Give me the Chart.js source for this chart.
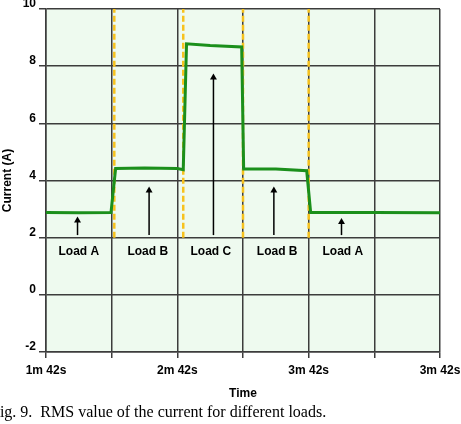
<!DOCTYPE html>
<html>
<head>
<meta charset="utf-8">
<script src="https://cdn.jsdelivr.net/npm/chart.js@4"></script>
<style>
  body { margin: 0; background: #fff; }
  #wrap { position: relative; width: 461px; height: 424px; overflow: hidden; }
  #caption { position: absolute; left: -9px; top: 403px; font: 16px "Liberation Serif", "Times New Roman", serif; color: #000; white-space: pre; }
</style>
</head>
<body>
<div id="wrap">
  <canvas id="chart" width="461" height="424"></canvas>
  <div id="caption">Fig. 9.  RMS value of the current for different loads.</div>
</div>
<script>
// current trace (x in grid divisions, y in A)
const time = [0, 0.5, 0.99, 1.06, 1.5, 2.0, 2.09, 2.14, 2.5, 2.98, 3.01, 3.5, 3.97, 4.03, 5, 6];
const current = [2.88, 2.87, 2.88, 4.42, 4.44, 4.42, 4.38, 8.78, 8.72, 8.67, 4.40, 4.40, 4.34, 2.88, 2.88, 2.87];

// dashed load-switch markers
const switchX = [1.04, 2.09, 3.0, 4.0];
const switchFrom = 2;
const switchTo = 10;

// arrows and load labels
const arrowX = [0.48, 1.57, 2.55, 3.47, 4.5];
const arrowBase = [2.09, 2.09, 2.09, 2.09, 2.09];
const arrowTip = [2.6, 3.65, 7.6, 3.65, 2.55];
const loadNames = ['Load A', 'Load B', 'Load C', 'Load B', 'Load A'];
const labelX = [0.5, 1.55, 2.51, 3.52, 4.52];
const labelY = 1.5;

const xTickLabels = ['1m 42s', '', '2m 42s', '', '3m 42s', '', '3m 42s'];
const yMin = -2, yMax = 10, yStep = 2;

const datasets = [{
  data: time.map((t, i) => ({ x: t, y: current[i] })),
  borderColor: '#1b8f1b',
  borderWidth: 3,
  pointRadius: 0
}];
switchX.forEach(x => {
  datasets.push({
    data: [{ x: x, y: switchFrom }, { x: x, y: switchTo }],
    borderColor: '#f7c21e',
    borderWidth: 2.5,
    borderDash: [6, 3],
    pointRadius: 0
  });
});
arrowX.forEach((x, i) => {
  datasets.push({
    data: [{ x: x, y: arrowBase[i] }, { x: x, y: arrowTip[i] }],
    borderColor: '#000',
    borderWidth: 1.5,
    pointStyle: 'triangle',
    pointRadius: [0, 4],
    pointBackgroundColor: '#000',
    pointBorderWidth: 0
  });
});

const plotBg = {
  id: 'plotBg',
  beforeDraw(chart) {
    const a = chart.chartArea, ctx = chart.ctx;
    ctx.save();
    ctx.fillStyle = '#eefaef';
    ctx.fillRect(a.left, a.top, a.right - a.left, a.bottom - a.top);
    ctx.restore();
  }
};

const loadText = {
  id: 'loadText',
  afterDatasetsDraw(chart) {
    const ctx = chart.ctx, xs = chart.scales.x, ys = chart.scales.y;
    ctx.save();
    ctx.font = 'bold 12px "Liberation Sans", Arial, sans-serif';
    ctx.fillStyle = '#000';
    ctx.textAlign = 'center';
    ctx.textBaseline = 'middle';
    loadNames.forEach((n, i) => {
      ctx.fillText(n, xs.getPixelForValue(labelX[i]), ys.getPixelForValue(labelY));
    });
    ctx.restore();
  }
};

const font = { family: '"Liberation Sans", Arial, sans-serif', size: 12, weight: 'bold' };

new Chart(document.getElementById('chart'), {
  type: 'line',
  data: { datasets: datasets },
  options: {
    responsive: false,
    animation: false,
    layout: { padding: { top: 9, right: 21, left: 0, bottom: 21 } },
    plugins: { legend: { display: false }, tooltip: { enabled: false } },
    scales: {
      x: {
        type: 'linear',
        min: 0, max: 6,
        afterFit(s) { s.height = 51; s.paddingLeft = 0; s.paddingRight = 0; },
        grid: { color: '#3c3c3c', lineWidth: 1.5, tickLength: 6 },
        border: { color: '#3c3c3c', width: 1.5 },
        ticks: {
          stepSize: 1, autoSkip: false, maxRotation: 0, padding: 5,
          color: '#000', font: font,
          callback: v => xTickLabels[v]
        },
        title: { display: true, text: 'Time', color: '#000', font: font, padding: { top: 4, bottom: 2 } }
      },
      y: {
        min: yMin, max: yMax,
        afterFit(s) { s.width = 46; s.paddingTop = 0; s.paddingBottom = 0; },
        grid: { color: '#3c3c3c', lineWidth: 1.5, tickLength: 7 },
        border: { color: '#3c3c3c', width: 1.5 },
        ticks: { stepSize: yStep, padding: 3, labelOffset: -5, color: '#000', font: font },
        title: { display: true, text: 'Current (A)', color: '#000', font: font, padding: 0 }
      }
    }
  },
  plugins: [plotBg, loadText]
});
</script>
</body>
</html>
